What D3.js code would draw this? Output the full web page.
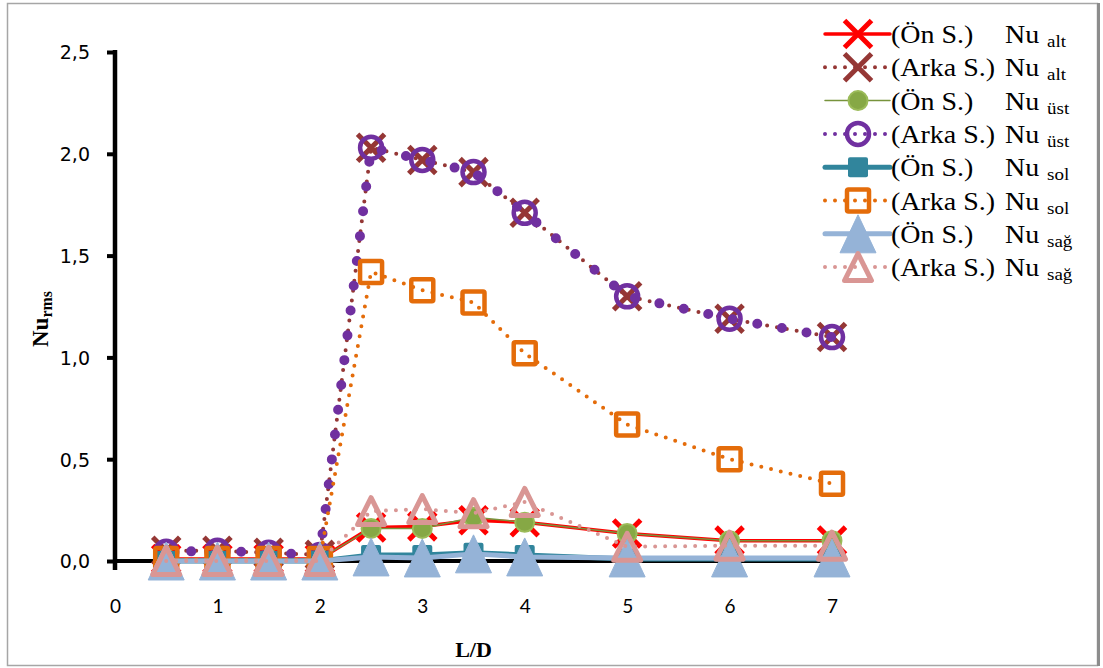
<!DOCTYPE html>
<html>
<head>
<meta charset="utf-8">
<script src="https://cdn.jsdelivr.net/npm/d3@7"></script>
<style>
  html, body { margin: 0; padding: 0; background: #fff; }
  svg { display: block; }
</style>
</head>
<body>
<svg id="chart" width="1103" height="668"></svg>
<script>
// L/D positions
const LD = [0.5, 1, 1.5, 2, 2.5, 3, 3.5, 4, 5, 6, 7];

// Nu_rms values per surface (Ön S. = front cylinder, Arka S. = rear cylinder)
const onAlt   = [0.01, 0.01, 0.01, 0.01, 0.165, 0.17, 0.20, 0.19, 0.135, 0.10, 0.10];
const arkaAlt = [0.05, 0.05, 0.04, 0.03, 2.03, 1.97, 1.91, 1.71, 1.30, 1.19, 1.10];
const onUst   = [0.01, 0.01, 0.01, 0.01, 0.16, 0.16, 0.215, 0.19, 0.135, 0.10, 0.10];
const arkaUst = [0.045, 0.05, 0.04, 0.03, 2.03, 1.97, 1.91, 1.71, 1.30, 1.19, 1.10];
const onSol   = [0, 0, 0, 0, 0.03, 0.03, 0.04, 0.03, 0.01, 0.01, 0.01];
const arkaSol = [0.01, 0.01, 0.01, 0.01, 1.42, 1.33, 1.27, 1.02, 0.67, 0.50, 0.38];
const onSag   = [0, 0, 0, 0, 0.02, 0.015, 0.035, 0.02, 0.015, 0.015, 0.015];
const arkaSag = [0, 0, 0, 0, 0.245, 0.255, 0.235, 0.29, 0.07, 0.075, 0.075];

const xTicks = [0, 1, 2, 3, 4, 5, 6, 7];
const yTicks = [0, 0.5, 1, 1.5, 2, 2.5];

const legendPrefix = ["(Ön S.)", "(Arka S.)", "(Ön S.)", "(Arka S.)", "(Ön S.)", "(Arka S.)", "(Ön S.)", "(Arka S.)"];
const legendSub = ["alt", "alt", "üst", "üst", "sol", "sol", "sağ", "sağ"];

const series = [
  { values: onAlt,   color: "#FF0000", width: 3.5, dash: null,   marker: "x",      mcolor: "#FF0000" },
  { values: arkaAlt, color: "#953735", width: 4,   dash: "0 10", marker: "x",      mcolor: "#953735" },
  { values: onUst,   color: "#77933C", width: 1.5, dash: null,   marker: "circle", mcolor: "#86A845" },
  { values: arkaUst, color: "#7030A0", width: 10,  dash: "0 25", marker: "ring",   mcolor: "#7030A0", legendWidth: 4, legendDash: "0 10" },
  { values: onSol,   color: "#31859C", width: 5,   dash: null,   marker: "square", mcolor: "#31859C" },
  { values: arkaSol, color: "#E46C0A", width: 4,   dash: "0 10", marker: "osquare",mcolor: "#E46C0A" },
  { values: onSag,   color: "#95B3D7", width: 5,   dash: null,   marker: "tri",    mcolor: "#95B3D7" },
  { values: arkaSag, color: "#D99694", width: 4,   dash: "0 10", marker: "otri",   mcolor: "#D99694" }
];

const svg = d3.select("#chart");

// outer frame
svg.append("rect").attr("x", 7.5).attr("y", 3.5).attr("width", 1090).attr("height", 662)
  .attr("fill", "#fff").attr("stroke", "#a6a6a6").attr("stroke-width", 1.5);
svg.append("line").attr("x1", 1098.5).attr("x2", 1098.5).attr("y1", 3).attr("y2", 666)
  .attr("stroke", "#8c8c8c").attr("stroke-width", 3);

const x = d3.scaleLinear().domain([0, 7]).range([115, 832]);
const y = d3.scaleLinear().domain([0, 2.5]).range([561, 52]);

// y axis
const yAxis = svg.append("g").attr("transform", "translate(115,0)")
  .call(d3.axisLeft(y).tickValues(yTicks).tickSize(8).tickSizeOuter(0)
    .tickFormat(d => d3.format(".1f")(d).replace(".", ",")));
yAxis.select(".domain").remove();
yAxis.selectAll(".tick line").attr("stroke", "#000").attr("stroke-width", 4);
yAxis.selectAll(".tick text").attr("x", -25).attr("dy", "0.36em")
  .style("font-family", "'DejaVu Sans', Verdana, sans-serif").style("font-size", "19px").attr("fill", "#000");

// x axis
const xAxis = svg.append("g").attr("transform", "translate(0,561)")
  .call(d3.axisBottom(x).tickValues(xTicks).tickSize(0).tickSizeOuter(0).tickFormat(d3.format("d")));
xAxis.select(".domain").remove();
xAxis.selectAll(".tick text").attr("y", 52).attr("dy", 0)
  .style("font-family", "Lato, 'Open Sans', sans-serif").style("font-size", "19px").attr("fill", "#000");

// axis lines
svg.append("line").attr("x1", x(0)).attr("x2", x(7)).attr("y1", y(0)).attr("y2", y(0))
  .attr("stroke", "#000").attr("stroke-width", 4);
svg.append("line").attr("x1", x(0)).attr("x2", x(0)).attr("y1", y(2.5) - 2).attr("y2", y(0) + 9)
  .attr("stroke", "#000").attr("stroke-width", 4.5);

// axis titles
svg.append("text").attr("x", (x(0) + x(7)) / 2).attr("y", 657).attr("text-anchor", "middle")
  .style("font-family", "'Liberation Serif', 'Times New Roman', serif").style("font-size", "22px")
  .style("font-weight", "bold").text("L/D");

const yt = svg.append("text").attr("transform", "translate(48,347) rotate(-90)")
  .style("font-family", "'Liberation Serif', 'Times New Roman', serif").style("font-weight", "bold");
yt.append("tspan").style("font-size", "23px").text("Nu");
yt.append("tspan").style("font-size", "16px").attr("dy", 4).text("rms");

// marker drawing
function drawMarker(g, type, color, cx, cy) {
  switch (type) {
    case "x": {
      const h = 13.5;
      g.append("path")
        .attr("d", `M${cx - h},${cy - h}L${cx + h},${cy + h}M${cx - h},${cy + h}L${cx + h},${cy - h}`)
        .attr("stroke", color).attr("stroke-width", 5).attr("fill", "none");
      break;
    }
    case "circle":
      g.append("circle").attr("cx", cx).attr("cy", cy).attr("r", 9.5)
        .attr("fill", color).attr("stroke", "#9BBB59").attr("stroke-width", 2);
      break;
    case "ring":
      g.append("circle").attr("cx", cx).attr("cy", cy).attr("r", 11)
        .attr("fill", "none").attr("stroke", color).attr("stroke-width", 4.5);
      break;
    case "square":
      g.append("rect").attr("x", cx - 10).attr("y", cy - 10).attr("width", 20).attr("height", 20)
        .attr("rx", 2).attr("fill", color);
      break;
    case "osquare":
      g.append("rect").attr("x", cx - 11).attr("y", cy - 11).attr("width", 22).attr("height", 22)
        .attr("rx", 1.5).attr("fill", "none").attr("stroke", color).attr("stroke-width", 4.5);
      break;
    case "tri": {
      const w = 18, h = 19;
      g.append("path").attr("d", `M${cx},${cy - h}L${cx + w},${cy + h}L${cx - w},${cy + h}Z`)
        .attr("fill", color).attr("stroke", color).attr("stroke-width", 1).attr("stroke-linejoin", "round");
      break;
    }
    case "otri": {
      const w = 13.5, h = 13.5;
      g.append("path").attr("d", `M${cx},${cy - h}L${cx + w},${cy + h}L${cx - w},${cy + h}Z`)
        .attr("fill", "none").attr("stroke", color).attr("stroke-width", 5).attr("stroke-linejoin", "round");
      break;
    }
  }
}

// series: line then markers, in drawing order
const lineGen = d3.line().x(d => x(d[0])).y(d => y(d[1]));
const plot = svg.append("g");
series.forEach(s => {
  const pts = LD.map((l, i) => [l, s.values[i]]);
  const g = plot.append("g");
  const p = g.append("path").datum(pts).attr("d", lineGen)
    .attr("fill", "none").attr("stroke", s.color).attr("stroke-width", s.width)
    .attr("stroke-linejoin", "round");
  if (s.dash) p.attr("stroke-dasharray", s.dash).attr("stroke-linecap", "round");
  pts.forEach(d => drawMarker(g, s.marker, s.mcolor, x(d[0]), y(d[1])));
});

// legend
const lg = svg.append("g");
const serif = "'Liberation Serif', 'Times New Roman', serif";
series.forEach((s, i) => {
  const cy = 34 + i * 33.3;
  const lw = s.legendWidth || s.width;
  const ld = s.legendDash || s.dash;
  const l = lg.append("line").attr("x1", 825).attr("x2", 890).attr("y1", cy).attr("y2", cy)
    .attr("stroke", s.color).attr("stroke-width", lw);
  if (ld) l.attr("stroke-dasharray", ld).attr("stroke-linecap", "round");
  else l.attr("stroke-linecap", "round");
  drawMarker(lg, s.marker, s.mcolor, 858, cy);

  lg.append("text").attr("transform", `translate(891,${cy + 9}) scale(1.12,1)`)
    .style("font-family", serif).style("font-size", "25px").text(legendPrefix[i]);
  lg.append("text").attr("transform", `translate(1005,${cy + 9}) scale(1.12,1)`)
    .style("font-family", serif).style("font-size", "25px").text("Nu");
  lg.append("text").attr("transform", `translate(1047,${cy + 13}) scale(1.12,1)`)
    .style("font-family", serif).style("font-size", "17px").text(legendSub[i]);
});
</script>
</body>
</html>
